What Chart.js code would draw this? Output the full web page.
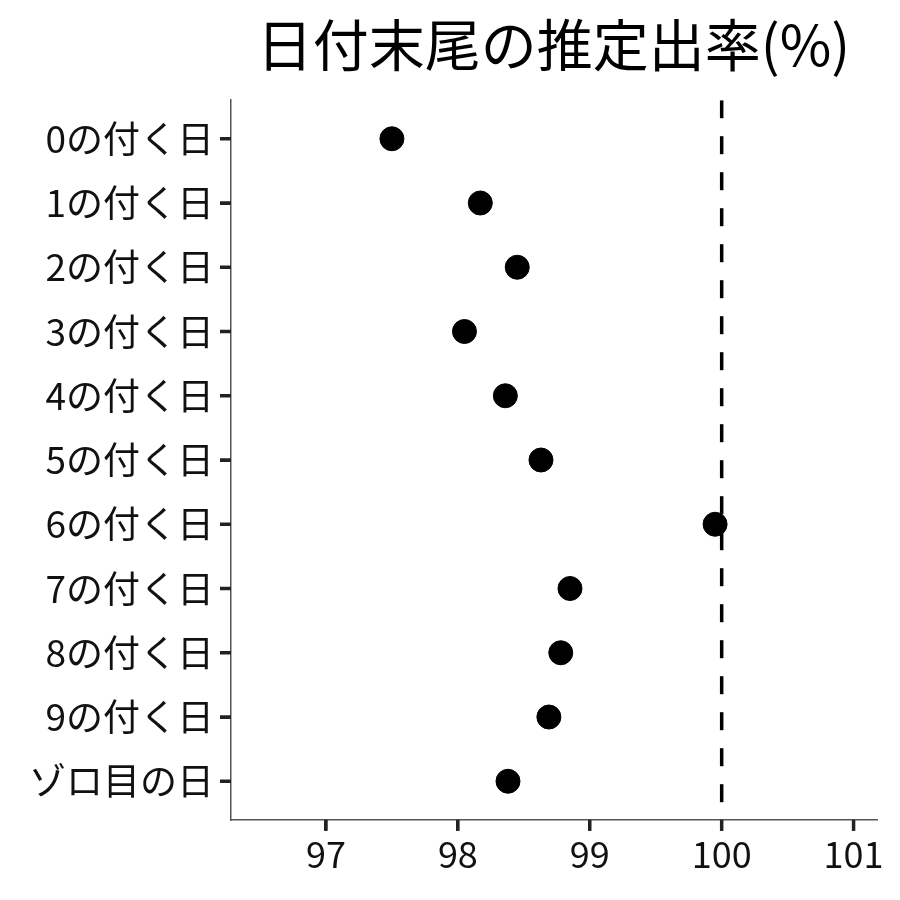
<!DOCTYPE html>
<html lang="ja">
<head>
    <meta charset="UTF-8">
    <title>日付末尾の推定出率</title>
    <script src="https://cdn.jsdelivr.net/npm/chart.js"></script>
    <style>
        html, body { margin: 0; padding: 0; background: #fff; }
        #wrap { width: 900px; height: 900px; }
    </style>
</head>
<body>
    <div id="wrap"><canvas id="chart" width="900" height="900"></canvas></div>

    <script>
        // 日付末尾ごとの推定出率(%)
        const categories = ['0の付く日', '1の付く日', '2の付く日', '3の付く日', '4の付く日',
            '5の付く日', '6の付く日', '7の付く日', '8の付く日', '9の付く日', 'ゾロ目の日'];
        const rates = [97.50, 98.17, 98.45, 98.05, 98.36, 98.63, 99.95, 98.85, 98.78, 98.69, 98.38];
        const xTicks = [97, 98, 99, 100, 101];
        const refLine = 100;

        const FONT = '"Noto Sans CJK JP", "Noto Sans", sans-serif';
        const TICK_LEN = 11;

        // 目盛り線(軸の外側の短い線)を描く
        const axisTicks = {
            id: 'axisTicks',
            afterDraw(chart) {
                const {ctx, scales: {x, y}, chartArea} = chart;
                ctx.save();
                ctx.strokeStyle = '#222';
                ctx.lineWidth = 3.5;
                x.ticks.forEach(t => {
                    const px = x.getPixelForValue(t.value);
                    ctx.beginPath();
                    ctx.moveTo(px, chartArea.bottom);
                    ctx.lineTo(px, chartArea.bottom + TICK_LEN);
                    ctx.stroke();
                });
                y.ticks.forEach(t => {
                    const py = y.getPixelForValue(t.value);
                    ctx.beginPath();
                    ctx.moveTo(chartArea.left, py);
                    ctx.lineTo(chartArea.left - TICK_LEN, py);
                    ctx.stroke();
                });
                ctx.restore();
            }
        };

        const tickGrid = {
            drawOnChartArea: false,
            drawTicks: true,
            tickLength: TICK_LEN,
            color: '#222',
            lineWidth: 3
        };

        const ctx = document.getElementById('chart').getContext('2d');
        new Chart(ctx, {
            type: 'scatter',
            data: {
                datasets: [
                    {
                        // 100%の基準線
                        data: [{x: refLine, y: -0.6}, {x: refLine, y: categories.length - 0.4}],
                        showLine: true,
                        borderColor: '#000',
                        borderWidth: 3.5,
                        borderDash: [18, 18],
                        pointRadius: 0,
                        order: 2
                    },
                    {
                        data: rates.map((v, i) => ({x: v, y: i})),
                        backgroundColor: '#000',
                        borderColor: '#000',
                        pointRadius: 12,
                        pointHoverRadius: 12,
                        order: 1
                    }
                ]
            },
            options: {
                responsive: false,
                animation: false,
                layout: { padding: { left: 23, right: 24, top: 0, bottom: 22 } },
                plugins: {
                    legend: { display: false },
                    tooltip: { enabled: false },
                    title: {
                        display: true,
                        fullSize: false,
                        text: '日付末尾の推定出率(%)',
                        color: '#000',
                        font: { family: FONT, size: 56, weight: 'normal' },
                        padding: { top: 11, bottom: 22 }
                    }
                },
                scales: {
                    x: {
                        type: 'linear',
                        min: 96.28,
                        max: 101.17,
                        afterBuildTicks: axis => { axis.ticks = xTicks.map(v => ({value: v})); },
                        ticks: {
                            color: '#111',
                            font: { family: FONT, size: 36 },
                            padding: 2,
                            maxRotation: 0
                        },
                        grid: tickGrid,
                        border: { color: '#555', width: 1.5 }
                    },
                    y: {
                        type: 'linear',
                        reverse: true,
                        min: -0.6,
                        max: categories.length - 0.4,
                        afterBuildTicks: axis => { axis.ticks = categories.map((_, i) => ({value: i})); },
                        ticks: {
                            color: '#111',
                            font: { family: FONT, size: 37 },
                            padding: 6,
                            callback: v => categories[v]
                        },
                        grid: tickGrid,
                        border: { color: '#555', width: 1.5 }
                    }
                }
            },
            plugins: [axisTicks]
        });
    </script>
</body>
</html>
